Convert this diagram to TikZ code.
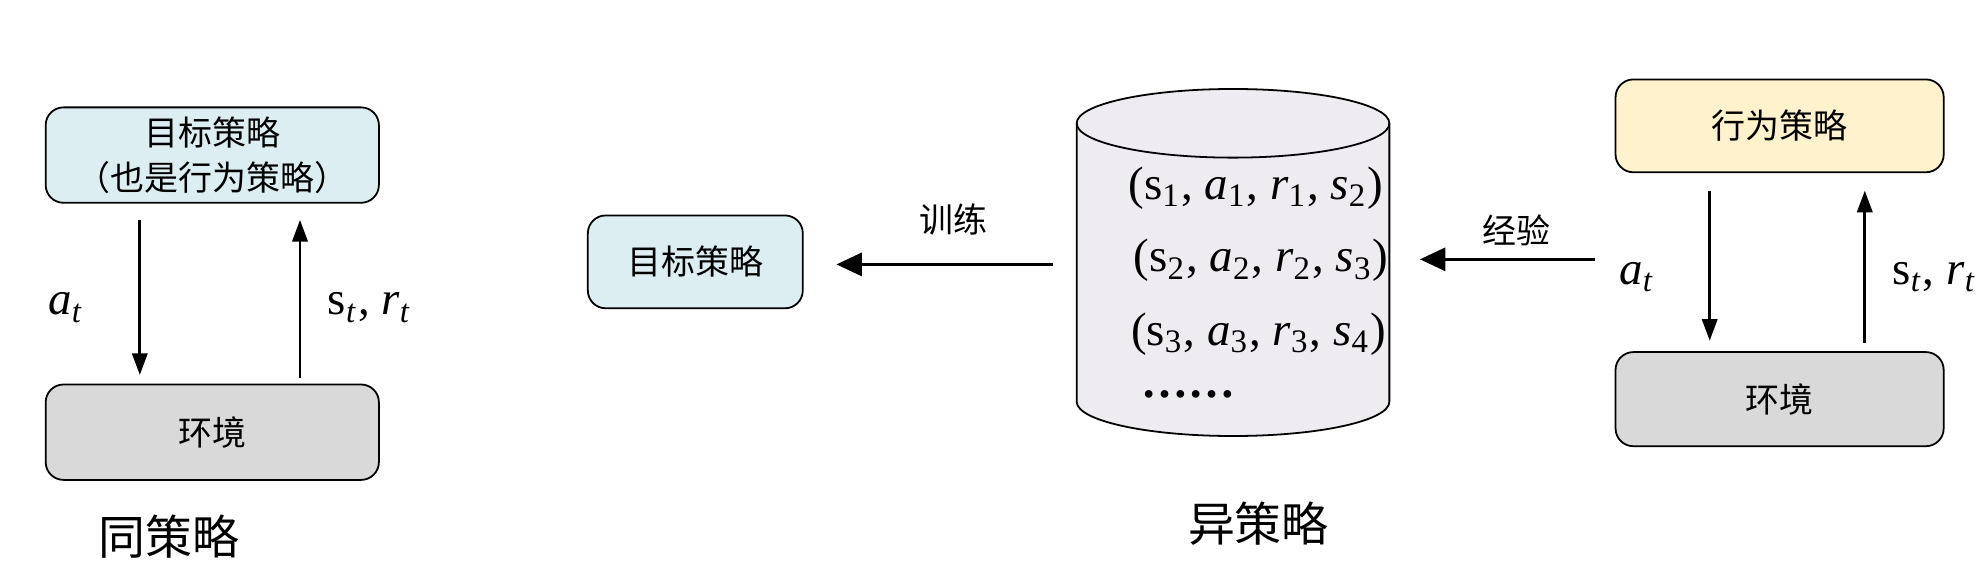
\documentclass[tikz,border=0pt]{standalone}
\usepackage{fontspec}
\setmainfont{Liberation Serif}
\newfontfamily\cjk{Noto Sans CJK SC}
\usetikzlibrary{arrows.meta}
\usetikzlibrary{positioning}

\definecolor{tgtblue}{HTML}{DDEEF3}
\definecolor{envgray}{HTML}{D9D9D9}
\definecolor{behyellow}{HTML}{FFF2CC}
\definecolor{bufgray}{HTML}{EEEBF1}
\newcommand{\vi}[1]{\textit{#1}}

\tikzset{
    box/.style={draw, rounded corners=0.14cm, font=\cjk\fontsize{7.6}{10}\selectfont, align=center, inner sep=0pt},
    act/.style={-{Triangle[length=0.17cm, width=0.12cm]}, semithick},
    feed/.style={-{Triangle[length=0.2cm, width=0.18cm]}, line width=0.8pt},
    lbl/.style={font=\fontsize{10.5}{12}\selectfont},
    title/.style={font=\cjk\fontsize{10.5}{12}\selectfont}
}

\begin{document}
\begin{tikzpicture}[x=0.01cm, y=-0.01cm]
    \useasboundingbox (0,0) rectangle (1560,442);

    % on-policy side
    \node[box, fill=tgtblue, minimum width=2.62cm, minimum height=0.75cm] (tgtL) at (167,122) {目标策略\\（也是行为策略）};
    \node[box, fill=envgray, minimum width=2.62cm, minimum height=0.75cm] (envL) at (167,340) {环境};
    \coordinate (aL1) at (110,173); \coordinate (aL2) at (110,295);
    \coordinate (sL1) at (236,297); \coordinate (sL2) at (236,173);
    \draw[act] (aL1) -- (aL2);
    \draw[act] (sL1) -- (sL2);
    \node[lbl] (atL) at (52,242) {\vi{a}\textsubscript{\vi{t}}};
    \node[lbl] (stL) at (291,242) {s\textsubscript{\vi{t}}, \vi{r}\textsubscript{\vi{t}}};
    \node[title] (onp) at (133,422) {同策略};

    % off-policy side
    \node[box, fill=tgtblue, minimum width=1.69cm, minimum height=0.73cm] (tgt) at (547,206) {目标策略};
    % replay buffer
    \filldraw[fill=bufgray] (847,97) -- (847,316) arc[start angle=180, end angle=360, x radius=123, y radius=-27] -- (1093,97) arc[start angle=0, end angle=180, x radius=123, y radius=-27];
    \draw (847,97) arc[start angle=180, end angle=360, x radius=123, y radius=-27];
    \node[lbl] (tr1) at (988,148) {(s\textsubscript{1}, \vi{a}\textsubscript{1}, \vi{r}\textsubscript{1}, \vi{s}\textsubscript{2})};
    \node[lbl] (tr2) at (992,205) {(s\textsubscript{2}, \vi{a}\textsubscript{2}, \vi{r}\textsubscript{2}, \vi{s}\textsubscript{3})};
    \node[lbl] (tr3) at (990,263) {(s\textsubscript{3}, \vi{a}\textsubscript{3}, \vi{r}\textsubscript{3}, \vi{s}\textsubscript{4})};
    \node[lbl] (dots) at (935,310) {\textbf{\dots\dots}};
    \coordinate (tgtIn) at (658,208); \coordinate (bufOut) at (828,208);
    \draw[feed] (bufOut) -- (tgtIn);
    \node[box, draw=none] (train) at (750,173) {训练};
    \coordinate (expA) at (1255,204); \coordinate (expB) at (1117,204);
    \draw[feed] (expA) -- (expB);
    \node[box, draw=none] (exp) at (1193,181) {经验};
    \node[box, fill=behyellow, minimum width=2.58cm, minimum height=0.73cm] (beh) at (1400,99) {行为策略};
    \node[box, fill=envgray, minimum width=2.58cm, minimum height=0.74cm] (envR) at (1400,314) {环境};
    \coordinate (aR1) at (1345,150); \coordinate (aR2) at (1345,268);
    \coordinate (sR1) at (1467,270); \coordinate (sR2) at (1467,150);
    \draw[act] (aR1) -- (aR2);
    \draw[act] (sR1) -- (sR2);
    \node[lbl] (atR) at (1288,218) {\vi{a}\textsubscript{\vi{t}}};
    \node[lbl] (stR) at (1522,218) {s\textsubscript{\vi{t}}, \vi{r}\textsubscript{\vi{t}}};
    \node[title] (offp) at (990,412) {异策略};
\end{tikzpicture}
\end{document}
